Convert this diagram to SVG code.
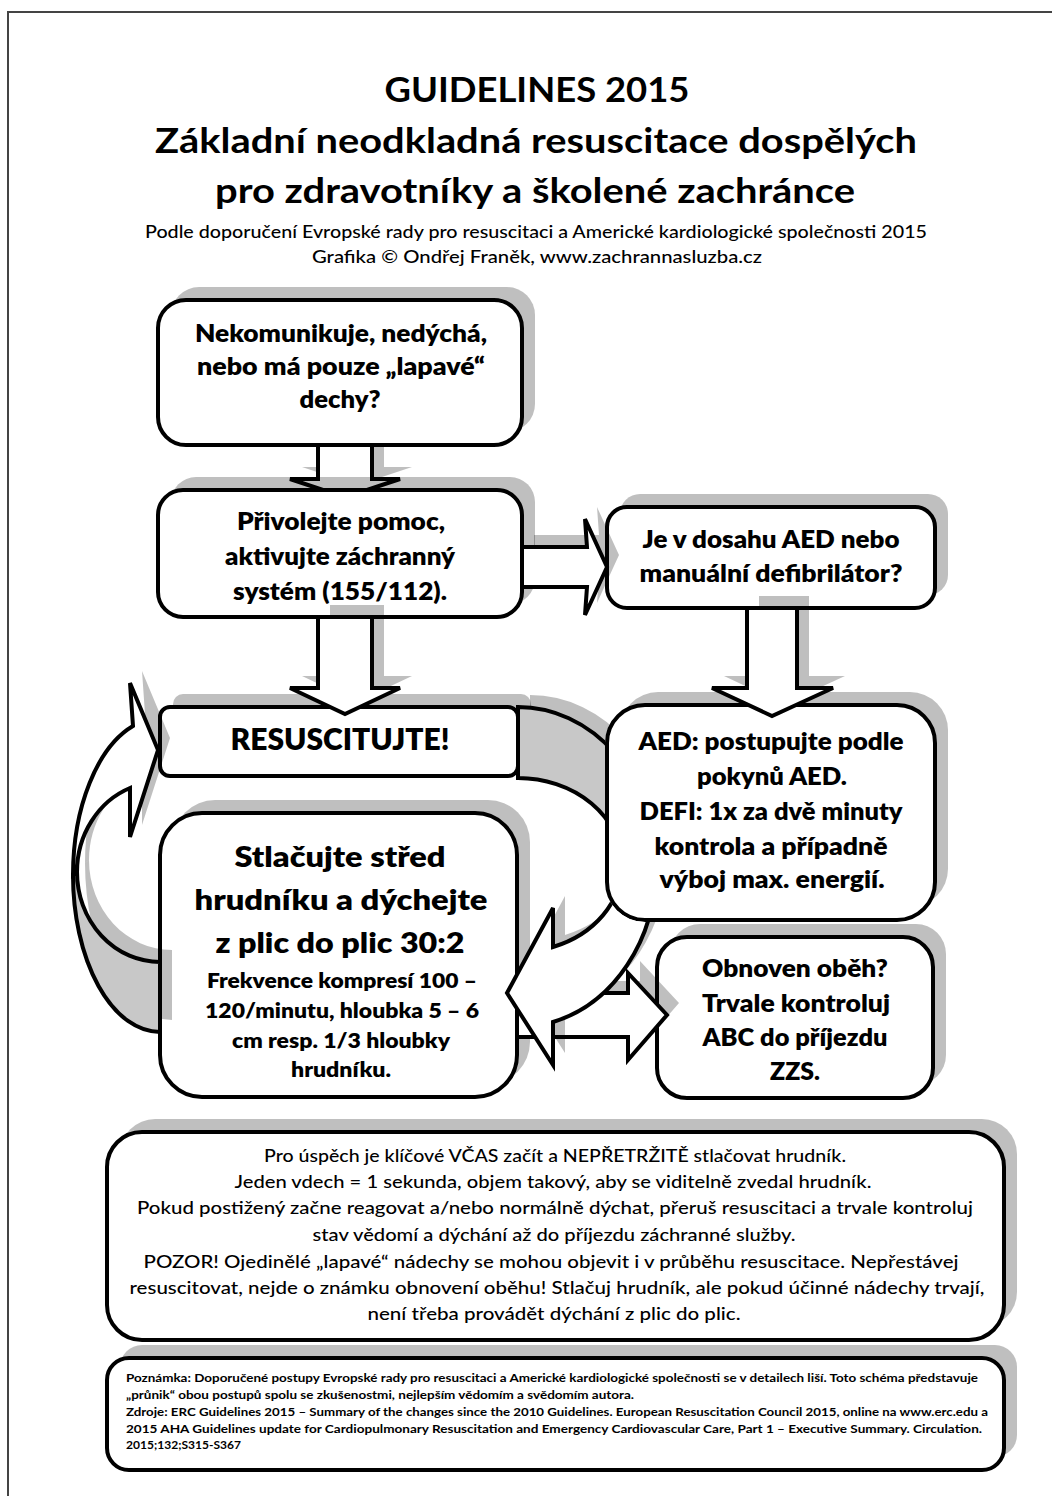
<svg xmlns="http://www.w3.org/2000/svg" width="1052" height="1496" viewBox="0 0 1052 1496">
<style>
.bx{fill:#fff;stroke:#000;stroke-width:4}
.sh{fill:#000;fill-opacity:.25;stroke:none}
.ar{fill:#fff;stroke:#000;stroke-width:4;stroke-linejoin:miter}
.bk{fill:#c8c8c8;stroke:#000;stroke-width:4}
text{font-family:Lato,"Liberation Sans",sans-serif;fill:#000;text-anchor:middle}
.t{font-size:34px;font-weight:700}
.s{font-size:17px;font-weight:500}
.b{font-size:24px;font-weight:800}
.r{font-size:30px;font-weight:800}
.h{font-size:28px;font-weight:800}
.m{font-size:21px;font-weight:800}
.n{font-size:18px;font-weight:500}
.f{font-size:11px;font-weight:700;text-anchor:start}
</style>
<defs>
<mask id="m4" maskUnits="userSpaceOnUse" x="0" y="0" width="1052" height="1496">
<rect x="0" y="0" width="1052" height="1496" fill="#fff"/>
<rect x="605" y="703" width="332" height="219" rx="40" fill="#000"/>
</mask>
</defs>
<rect width="1052" height="1496" fill="#fff"/>
<path d="M8,1496 V12 H1052" fill="none" stroke="#444" stroke-width="2"/>

<g id="title">
<text class="t" x="537" y="102" textLength="305" lengthAdjust="spacingAndGlyphs">GUIDELINES 2015</text>
<text class="t" x="536" y="153" textLength="762" lengthAdjust="spacingAndGlyphs">Základní neodkladná resuscitace dospělých</text>
<text class="t" x="535" y="203" textLength="640" lengthAdjust="spacingAndGlyphs">pro zdravotníky a školené zachránce</text>
<text class="s" x="536" y="238" textLength="782" lengthAdjust="spacingAndGlyphs">Podle doporučení Evropské rady pro resuscitaci a Americké kardiologické společnosti 2015</text>
<text class="s" x="537" y="263" textLength="450" lengthAdjust="spacingAndGlyphs">Grafika © Ondřej Franěk, www.zachrannasluzba.cz</text>
</g>

<g id="connector-a">
<polygon class="sh" points="330,447 384,447 384,467 412,467 379,478 335,478 302,467 330,467"/>
<polygon class="ar" points="318,445 372,445 372,479 400,479 367,490 323,490 290,479 318,479"/>
</g>

<g id="n1">
<rect class="sh" x="171" y="287" width="364" height="145" rx="28"/>
<rect class="bx" x="158" y="300" width="364" height="145" rx="28"/>
<text class="b" x="341" y="342" textLength="292" lengthAdjust="spacingAndGlyphs">Nekomunikuje, nedýchá,</text>
<text class="b" x="341" y="375" textLength="288" lengthAdjust="spacingAndGlyphs">nebo má pouze „lapavé“</text>
<text class="b" x="340" y="408" textLength="81" lengthAdjust="spacingAndGlyphs">dechy?</text>
</g>

<g id="n2">
<rect class="sh" x="171" y="477" width="364" height="127" rx="25"/>
<rect class="bx" x="158" y="490" width="364" height="127" rx="25"/>
<text class="b" x="341" y="530" textLength="208" lengthAdjust="spacingAndGlyphs">Přivolejte pomoc,</text>
<text class="b" x="340" y="565" textLength="230" lengthAdjust="spacingAndGlyphs">aktivujte záchranný</text>
<text class="b" x="340" y="600" textLength="214" lengthAdjust="spacingAndGlyphs">systém (155/112).</text>
</g>

<g id="n3">
<rect class="sh" x="620" y="494" width="328" height="101" rx="20"/>
<rect class="bx" x="607" y="507" width="328" height="101" rx="20"/>
<text class="b" x="771" y="548" textLength="257" lengthAdjust="spacingAndGlyphs">Je v dosahu AED nebo</text>
<text class="b" x="771" y="582" textLength="263" lengthAdjust="spacingAndGlyphs">manuální defibrilátor?</text>
</g>

<g id="n5">
<rect class="sh" x="173" y="694" width="358" height="69" rx="10"/>
<rect class="bx" x="160" y="707" width="358" height="69" rx="10"/>
<text class="r" x="340" y="750" textLength="219" lengthAdjust="spacingAndGlyphs">RESUSCITUJTE!</text>
</g>

<g id="n4">
<rect class="sh" x="620" y="692" width="328" height="215" rx="38"/>
<rect class="bx" x="607" y="705" width="328" height="215" rx="38"/>
<text class="b" x="771" y="750" textLength="265" lengthAdjust="spacingAndGlyphs">AED: postupujte podle</text>
<text class="b" x="772" y="785" textLength="150" lengthAdjust="spacingAndGlyphs">pokynů AED.</text>
<text class="b" x="771" y="820" textLength="263" lengthAdjust="spacingAndGlyphs">DEFI: 1x za dvě minuty</text>
<text class="b" x="771" y="855" textLength="233" lengthAdjust="spacingAndGlyphs">kontrola a případně</text>
<text class="b" x="772" y="888" textLength="225" lengthAdjust="spacingAndGlyphs">výboj max. energií.</text>
</g>

<g id="n7">
<rect class="sh" x="173" y="800" width="357" height="284" rx="42"/>
<rect class="bx" x="160" y="813" width="357" height="284" rx="42"/>
<text class="h" x="340" y="867" textLength="211" lengthAdjust="spacingAndGlyphs">Stlačujte střed</text>
<text class="h" x="341" y="910" textLength="293" lengthAdjust="spacingAndGlyphs">hrudníku a dýchejte</text>
<text class="h" x="340" y="953" textLength="249" lengthAdjust="spacingAndGlyphs">z plic do plic 30:2</text>
<text class="m" x="342" y="988" textLength="270" lengthAdjust="spacingAndGlyphs">Frekvence kompresí 100 –</text>
<text class="m" x="342" y="1018" textLength="274" lengthAdjust="spacingAndGlyphs">120/minutu, hloubka 5 – 6</text>
<text class="m" x="341" y="1048" textLength="218" lengthAdjust="spacingAndGlyphs">cm resp. 1/3 hloubky</text>
<text class="m" x="341" y="1077" textLength="100" lengthAdjust="spacingAndGlyphs">hrudníku.</text>
</g>

<g id="n6">
<rect class="sh" x="670" y="924" width="276" height="161" rx="30"/>
<rect class="bx" x="657" y="937" width="276" height="161" rx="30"/>
<text class="b" x="795" y="977" textLength="186" lengthAdjust="spacingAndGlyphs">Obnoven oběh?</text>
<text class="b" x="796" y="1012" textLength="188" lengthAdjust="spacingAndGlyphs">Trvale kontroluj</text>
<text class="b" x="795" y="1046" textLength="185" lengthAdjust="spacingAndGlyphs">ABC do příjezdu</text>
<text class="b" x="795" y="1080" textLength="50" lengthAdjust="spacingAndGlyphs">ZZS.</text>
</g>

<g id="n8">
<rect class="sh" x="120" y="1119" width="897" height="208" rx="35"/>
<rect class="bx" x="107" y="1132" width="897" height="208" rx="35"/>
<text class="n" x="555" y="1162" textLength="582" lengthAdjust="spacingAndGlyphs">Pro úspěch je klíčové VČAS začít a NEPŘETRŽITĚ stlačovat hrudník.</text>
<text class="n" x="553" y="1188" textLength="637" lengthAdjust="spacingAndGlyphs">Jeden vdech = 1 sekunda, objem takový, aby se viditelně zvedal hrudník.</text>
<text class="n" x="555" y="1214" textLength="836" lengthAdjust="spacingAndGlyphs">Pokud postižený začne reagovat a/nebo normálně dýchat, přeruš resuscitaci a trvale kontroluj</text>
<text class="n" x="554" y="1241" textLength="483" lengthAdjust="spacingAndGlyphs">stav vědomí a dýchání až do příjezdu záchranné služby.</text>
<text class="n" x="551" y="1268" textLength="815" lengthAdjust="spacingAndGlyphs">POZOR! Ojedinělé „lapavé“ nádechy se mohou objevit i v průběhu resuscitace. Nepřestávej</text>
<text class="n" x="557" y="1294" textLength="855" lengthAdjust="spacingAndGlyphs">resuscitovat, nejde o známku obnovení oběhu! Stlačuj hrudník, ale pokud účinné nádechy trvají,</text>
<text class="n" x="554" y="1320" textLength="373" lengthAdjust="spacingAndGlyphs">není třeba provádět dýchání z plic do plic.</text>
</g>

<g id="n9">
<rect class="sh" x="120" y="1345" width="897" height="112" rx="22"/>
<rect class="bx" x="107" y="1358" width="897" height="112" rx="22"/>
<text class="f" x="126" y="1382" textLength="852" lengthAdjust="spacingAndGlyphs">Poznámka: Doporučené postupy Evropské rady pro resuscitaci a Americké kardiologické společnosti se v detailech liší. Toto schéma představuje</text>
<text class="f" x="126" y="1399" textLength="508" lengthAdjust="spacingAndGlyphs">„průnik“ obou postupů spolu se zkušenostmi, nejlepším vědomím a svědomím autora.</text>
<text class="f" x="126" y="1416" textLength="862" lengthAdjust="spacingAndGlyphs">Zdroje: ERC Guidelines 2015 – Summary of the changes since the 2010 Guidelines. European Resuscitation Council 2015, online na www.erc.edu a</text>
<text class="f" x="126" y="1433" textLength="856" lengthAdjust="spacingAndGlyphs">2015 AHA Guidelines update for Cardiopulmonary Resuscitation and Emergency Cardiovascular Care, Part 1 – Executive Summary. Circulation.</text>
<text class="f" x="126" y="1449" textLength="115" lengthAdjust="spacingAndGlyphs">2015;132;S315-S367</text>
</g>

<g id="connectors">
<g id="c-b">
<polygon class="sh" transform="translate(12,-12)" points="318,617 372,617 372,688 400,688 345,714 290,688 318,688"/>
<polygon class="ar" points="318,617 372,617 372,688 400,688 345,714 290,688 318,688"/>
</g>
<g id="c-c">
<polygon class="sh" transform="translate(12,-12)" points="522,547 587,547 585,519 607,567 585,615 587,587 522,587"/>
<polygon class="ar" points="522,547 587,547 585,519 607,567 585,615 587,587 522,587"/>
</g>
<g id="c-d">
<polygon class="sh" transform="translate(12,-12)" points="747,608 797,608 797,688 833,688 772,716 712,688 747,688"/>
<polygon class="ar" points="747,608 797,608 797,688 833,688 772,716 712,688 747,688"/>
</g>
<g id="c-e">
<polygon class="sh" transform="translate(12,-12)" points="517,993 628,993 628,973 667,1015 628,1060 628,1037 517,1037"/>
<polygon class="ar" points="517,993 628,993 628,973 667,1015 628,1060 628,1037 517,1037"/>
</g>
<g id="c-loop-left">
<g transform="translate(12,-12)">
<path class="sh" d="M160,1032 A87,157 0 0 1 73,875 L77,872 A83,90 0 0 0 160,962 Z"/>
<path class="sh" d="M73,875 A87,157 0 0 1 133,726 L130,683 L158,750 L130,837 L130,788 A83,90 0 0 0 77,872 Z"/>
</g>
<path class="bk" d="M160,1032 A87,157 0 0 1 73,875 L77,872 A83,90 0 0 0 160,962 Z"/>
<path class="ar" d="M73,875 A87,157 0 0 1 133,726 L130,683 L158,750 L130,837 L130,788 A83,90 0 0 0 77,872 Z"/>
</g>
<g id="c-loop-right" mask="url(#m4)">
<g transform="translate(12,-12)">
<path class="sh" d="M518,707 A138,160 0 0 1 656,867 L622,865 A104,87 0 0 0 518,778 Z"/>
<path class="sh" d="M656,867 A138,160 0 0 1 553,1022 L553,1065 L507,993 L553,908 L553,947 A104,87 0 0 0 622,865 Z"/>
</g>
<path class="bk" d="M518,707 A138,160 0 0 1 656,867 L622,865 A104,87 0 0 0 518,778 Z"/>
<path class="ar" d="M656,867 A138,160 0 0 1 553,1022 L553,1065 L507,993 L553,908 L553,947 A104,87 0 0 0 622,865 Z"/>
</g>
</g>
</svg>
